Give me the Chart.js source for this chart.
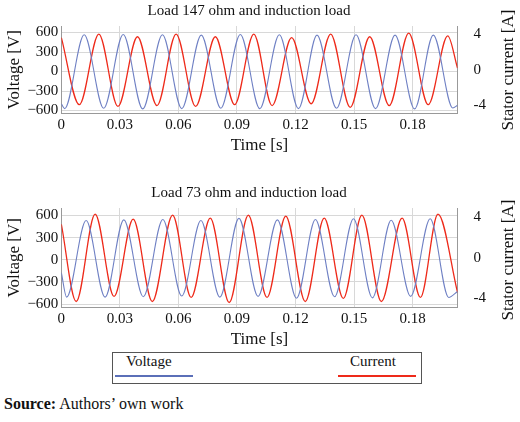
<!DOCTYPE html>
<html>
<head>
<meta charset="utf-8">
<script src="https://cdn.jsdelivr.net/npm/chart.js@4"></script>
<style>
body { margin: 0; background: #fff; width: 520px; height: 422px; position: relative; overflow: hidden; font-family: "Liberation Serif", serif; }
.box { position: absolute; left: 0; width: 520px; }
#legend { position: absolute; left: 112px; top: 352px; width: 308px; height: 30px; border: 1px solid #555; }
.lt { position: absolute; top: 0px; font-size: 15px; color: #111; }
.ll { position: absolute; top: 22px; height: 2px; }
#source { position: absolute; left: 4px; top: 395px; font-size: 16px; color: #111; }
.rt { position: absolute; width: 160px; text-align: center; font-size: 17px; color: #111; transform: rotate(-90deg); transform-origin: center; }
</style>
</head>
<body>
<div class="box" style="top:0;height:156px"><canvas id="chart1"></canvas></div>
<div class="box" style="top:182px;height:168px"><canvas id="chart2"></canvas></div>
<div class="rt" style="left:428px;top:60px">Stator current [A]</div>
<div class="rt" style="left:428px;top:250px">Stator current [A]</div>
<div id="legend">
  <span class="lt" style="left:13px">Voltage</span>
  <div class="ll" style="left:2px;width:78px;background:#5b6fb8"></div>
  <span class="lt" style="left:237px">Current</span>
  <div class="ll" style="left:225px;width:78px;background:#ee2a1a"></div>
</div>
<div id="source"><b>Source:</b> Authors’ own work</div>
<script>
// panel 1: load 147 ohm (extrema)
const v1Time = [0, 0.0017, 0.0117, 0.0217, 0.0317, 0.0417, 0.0518, 0.0617, 0.0717, 0.0817, 0.0917, 0.1017, 0.1117, 0.1215, 0.131, 0.141, 0.151, 0.161, 0.171, 0.181, 0.1906, 0.2006, 0.203];
const v1Vals = [-495, -570, 565, -565, 570, -575, 565, -570, 560, -565, 570, -570, 565, -570, 560, -565, 565, -570, 560, -575, 560, -560, -520];
const i1Time = [0, 0.0092, 0.0192, 0.029, 0.039, 0.049, 0.0588, 0.0688, 0.0789, 0.0888, 0.0986, 0.108, 0.118, 0.128, 0.138, 0.148, 0.158, 0.168, 0.178, 0.188, 0.198, 0.203];
const i1Vals = [3.6, -3.9, 4.0, -4.1, 3.7, -4.0, 4.0, -4.1, 3.7, -3.9, 4.0, -4.0, 3.6, -3.8, 4.0, -4.2, 3.7, -4.0, 4.1, -3.9, 3.8, 0.2];

// panel 2: load 73 ohm
const v2Time = [0, 0.0027, 0.0127, 0.0224, 0.032, 0.042, 0.052, 0.0617, 0.0715, 0.0812, 0.091, 0.1008, 0.1107, 0.1205, 0.1302, 0.14, 0.1497, 0.1594, 0.169, 0.179, 0.189, 0.1985, 0.203];
const v2Vals = [-175, -505, 530, -505, 540, -500, 545, -490, 530, -505, 560, -495, 540, -520, 545, -500, 555, -515, 535, -495, 555, -510, -430];
const i2Time = [0, 0.0076, 0.0173, 0.027, 0.0368, 0.0466, 0.057, 0.0665, 0.0763, 0.086, 0.0958, 0.1054, 0.115, 0.125, 0.1347, 0.1445, 0.154, 0.164, 0.1746, 0.184, 0.193, 0.203];
const i2Vals = [3.3, -4.3, 4.3, -3.8, 3.8, -4.3, 4.2, -3.9, 3.9, -4.4, 4.2, -3.9, 4.1, -4.3, 3.9, -4.0, 4.2, -4.3, 3.9, -3.9, 4.3, -3.4];

const timeTicks = [0, 0.03, 0.06, 0.09, 0.12, 0.15, 0.18];
const voltTicks = [-600, -300, 0, 300, 600];
const currTicks = [-4, 0, 4];

const serif = "'Liberation Serif', 'Times New Roman', serif";

function pts(t, v) {
    return t.map((x, k) => ({ x: x, y: v[k] }));
}

function drawPanel(id, title, vt, vv, it, iv) {
    const ctx = document.getElementById(id).getContext('2d');
    return new Chart(ctx, {
        type: 'line',
        data: {
            datasets: [
                { label: 'Voltage', data: pts(vt, vv), borderColor: '#6f80c4', borderWidth: 1.1, pointRadius: 0, cubicInterpolationMode: 'monotone', yAxisID: 'y' },
                { label: 'Current', data: pts(it, iv), borderColor: '#ee2a1a', borderWidth: 1.3, pointRadius: 0, cubicInterpolationMode: 'monotone', yAxisID: 'y1' }
            ]
        },
        options: {
            responsive: true,
            maintainAspectRatio: false,
            animation: false,
            layout: { padding: { left: 4, right: 26, top: 0, bottom: 0 } },
            plugins: {
                legend: { display: false },
                tooltip: { enabled: false },
                title: { display: true, text: title, color: '#111', font: { family: serif, size: 15, weight: 'normal' }, padding: { top: 2, bottom: 6 } }
            },
            scales: {
                x: {
                    type: 'linear', min: 0, max: 0.203,
                    afterBuildTicks: s => { s.ticks = timeTicks.map(v => ({ value: v })); },
                    ticks: { color: '#111', font: { family: serif, size: 15 }, maxRotation: 0, padding: 2, callback: v => String(v) },
                    grid: { color: '#d8d8d8', drawTicks: false },
                    border: { color: '#999' },
                    title: { display: true, text: 'Time [s]', color: '#111', font: { family: serif, size: 17 }, padding: { top: 0, bottom: 0 } }
                },
                y: {
                    position: 'left', min: -647, max: 700,
                    afterBuildTicks: s => { s.ticks = voltTicks.map(v => ({ value: v })); },
                    ticks: { color: '#111', font: { family: serif, size: 15 }, padding: 3, callback: v => v < 0 ? '\u2212' + (-v) : String(v) },
                    grid: { color: '#d8d8d8', drawTicks: false },
                    border: { color: '#999' },
                    title: { display: true, text: 'Voltage [V]', color: '#111', font: { family: serif, size: 17 }, padding: 0 }
                },
                y1: {
                    position: 'right', min: -4.9, max: 4.9,
                    afterBuildTicks: s => { s.ticks = currTicks.map(v => ({ value: v })); },
                    ticks: { color: '#111', font: { family: serif, size: 15 }, padding: 8 },
                    grid: { display: false },
                    border: { color: '#999' }
                }
            }
        }
    });
}

document.addEventListener('DOMContentLoaded', () => {
    drawPanel('chart1', 'Load 147 ohm and induction load', v1Time, v1Vals, i1Time, i1Vals);
    drawPanel('chart2', 'Load 73 ohm and induction load', v2Time, v2Vals, i2Time, i2Vals);
});
</script>
</body>
</html>
